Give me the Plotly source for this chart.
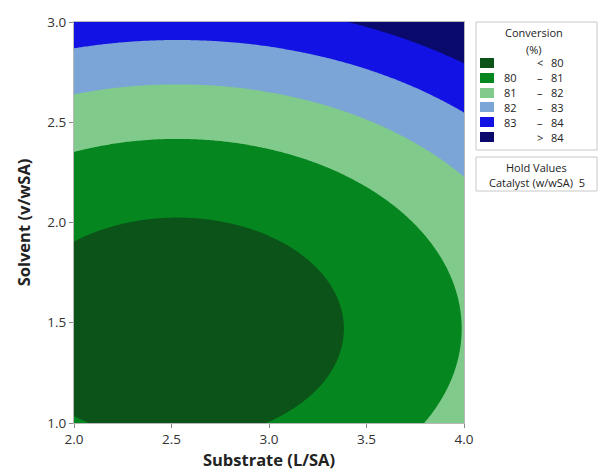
import numpy as np
import plotly.graph_objects as go

# Fitted response-surface model for Conversion (%), Catalyst held at 5 w/wSA
# Conversion = b0 + bx*S + by*V + bxx*S^2 + byy*V^2 + bxy*S*V
coef_b0 = 87.73
coef_bx = -3.623
coef_by = -4.992
coef_bxx = 0.716
coef_byy = 1.698
coef_bxy = 0.0

substrate_range = [2.0, 4.0]
solvent_range = [1.0, 3.0]
x_ticks = [2.0, 2.5, 3.0, 3.5, 4.0]
y_ticks = [1.0, 1.5, 2.0, 2.5, 3.0]

levels = [80, 81, 82, 83, 84]
band_colors = ["#0B5318", "#05861F", "#80CB8B", "#7BA4D7", "#1212E4", "#0A0A6C"]
band_labels = [("", "<", "80"), ("80", "–", "81"), ("81", "–", "82"),
               ("82", "–", "83"), ("83", "–", "84"), ("", ">", "84")]
hold_name = "Catalyst (w/wSA)"
hold_value = "5"

S = np.linspace(substrate_range[0], substrate_range[1], 241)
V = np.linspace(solvent_range[0], solvent_range[1], 241)
SS, VV = np.meshgrid(S, V)
Z = (coef_b0 + coef_bx * SS + coef_by * VV + coef_bxx * SS ** 2
     + coef_byy * VV ** 2 + coef_bxy * SS * VV)

# stepped colorscale: one flat colour per band
n = len(band_colors)
zlo, zhi = levels[0] - 1, levels[-1] + 1
cscale = []
for i, c in enumerate(band_colors):
    cscale.append([i / n, c])
    cscale.append([(i + 1) / n, c])

fig = go.Figure()
fig.add_trace(go.Contour(
    x=S, y=V, z=Z,
    zmin=zlo, zmax=zhi, zauto=False,
    autocontour=False,
    contours=dict(start=levels[0], end=levels[-1], size=1,
                  coloring="fill", showlines=False),
    line=dict(width=0),
    colorscale=cscale,
    showscale=False,
    hoverinfo="skip",
))

FONT = "Open Sans"
TXT = "#222222"

L, R, T, B = 74, 464, 22, 423
W, H = 598, 471


def px(x):
    return (x - L) / (R - L)


def py(y):
    return (B - y) / (B - T)


shapes = []
ann = []

# Legend box
shapes.append(dict(type="rect", xref="paper", yref="paper",
                   x0=px(476), x1=px(597), y0=py(150), y1=py(22),
                   line=dict(color="#C8C8C8", width=1), fillcolor="white"))
ann.append(dict(x=px(534), y=py(33), text="Conversion"))
ann.append(dict(x=px(534), y=py(49), text="(%)"))
row_y = [63, 78, 93, 107, 122, 137]
for yy, col, (a, dash, b) in zip(row_y, band_colors, band_labels):
    shapes.append(dict(type="rect", xref="paper", yref="paper",
                       x0=px(480), x1=px(494), y0=py(yy + 5), y1=py(yy - 5),
                       line=dict(width=0), fillcolor=col))
    if a:
        ann.append(dict(x=px(502), y=py(yy), text=a, xanchor="left"))
    ann.append(dict(x=px(540), y=py(yy), text=dash, xanchor="center"))
    ann.append(dict(x=px(566), y=py(yy), text=b, xanchor="right"))

# Hold values box
shapes.append(dict(type="rect", xref="paper", yref="paper",
                   x0=px(476), x1=px(597), y0=py(191), y1=py(157),
                   line=dict(color="#C8C8C8", width=1), fillcolor="white"))
ann.append(dict(x=px(536), y=py(167), text="Hold Values"))
ann.append(dict(x=px(537), y=py(182), text=f"{hold_name}  {hold_value}"))

annotations = []
for a in ann:
    d = dict(xref="paper", yref="paper", showarrow=False,
             xanchor=a.get("xanchor", "center"), yanchor="middle",
             font=dict(family=FONT, size=11, color=TXT))
    d.update(a)
    annotations.append(d)

axis_common = dict(
    showgrid=False, zeroline=False, automargin=False,
    showline=True, linecolor="#B8B8B8", linewidth=1, mirror=True,
    ticks="outside", ticklen=4, tickcolor="#888888",
    tickfont=dict(family=FONT, size=13.5, color="#333333"),
    tickformat=".1f",
)

fig.update_layout(
    width=W, height=H,
    margin=dict(l=L, r=W - R, t=T, b=H - B),
    paper_bgcolor="white", plot_bgcolor="white",
    xaxis=dict(range=substrate_range, tickvals=x_ticks, **axis_common,
               title=dict(text="Substrate (L/SA)", standoff=6,
                          font=dict(family=FONT, size=16.5, color=TXT, weight="bold"))),
    yaxis=dict(range=solvent_range, tickvals=y_ticks, **axis_common,
               title=dict(text="Solvent (v/wSA)", standoff=12,
                          font=dict(family=FONT, size=16.5, color=TXT, weight="bold"))),
    shapes=shapes,
    annotations=annotations,
    showlegend=False,
)

fig.write_html("out.html")
